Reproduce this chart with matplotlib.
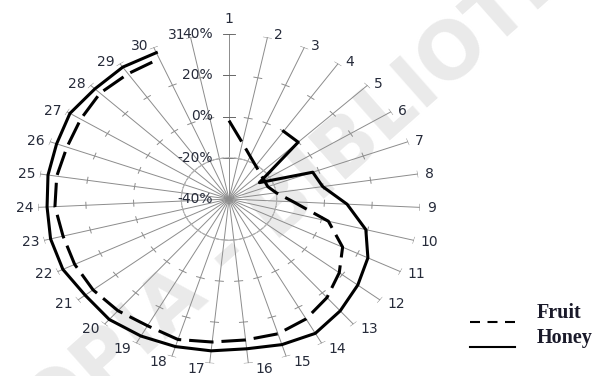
import numpy as np
import matplotlib
matplotlib.use("Agg")
import matplotlib.pyplot as plt
from matplotlib.lines import Line2D

# 31 days around the radar, values in %
days = [str(d) for d in range(1, 32)]
nan = np.nan
fruit = [-2, -12.2, -17.5, -20.4, -22, -22.7, -22.7, -20, -13, 3,
         13, 18.4, 23, 26.5, 28.5, 28.7, 29.7, 31.4, 30.3, 31.4,
         32, 32, 31.8, 33, 33, 32.4, 33.2, 34.5, 34, 34, nan]
honey = [nan, nan, nan, 0, 0, -25, -2.6, -0.3, 9.5, 19.2,
         24.8, 28.2, 31.5, 34.5, 34, 33, 34, 35, 36, 37,
         36.2, 37.5, 37.2, 36.3, 36.7, 37, 38.5, 37.5, 37.9, 37.2, nan]
r_levels = [-40, -20, 0, 20, 40]
r_labels = ['-40%', '-20%', '0%', '20%', '40%']

W, H = 603, 376
txt_col = '#262b3a'
grid_col = '#8c8c8c'

fig = plt.figure(figsize=(W / 100, H / 100), dpi=100)

# faint watermark of the scanned page
fig.text(320 / W, 1 - 173 / H, 'COPIA - BIBLIOTECA', rotation=41.5,
         ha='center', va='center', fontsize=56, fontweight='bold',
         color='#eaeaea', zorder=-1)

# box of the (stretched) radar in pixels
bx, by, bw, bh = 38, 12, 382, 330
ax = fig.add_axes([bx / W, by / H, bw / W, bh / H], projection='polar')
ax.set_aspect('auto')
ax.set_theta_zero_location('N')
ax.set_theta_direction(-1)
ax.set_ylim(-40, 40)
ax.set_xticks([])
ax.set_yticks([])
ax.grid(False)
ax.spines['polar'].set_visible(False)
ax.patch.set_visible(False)

n = len(days)
theta = np.arange(n) * 2 * np.pi / n
Rx, Ry = bw / 2, bh / 2

# faint gridline at -20%
tt = np.linspace(0, 2 * np.pi, 300)
ax.plot(tt, np.full_like(tt, -20.0), color='#b5b5b5', lw=0.7)

# spokes with tick marks
for i, t in enumerate(theta):
    ax.plot([t, t], [-40, 40], color=grid_col, lw=0.7, zorder=1)
    rad = np.hypot(Rx * np.sin(t), Ry * np.cos(t))
    for lv in r_levels[1:]:
        rho = (lv + 40) / 80
        h = 5.0 if i == 0 else 3.5
        d = h / (rad * rho)
        ax.plot([t - d, t + d], [lv, lv], color=grid_col if i else '#666666',
                lw=0.7, zorder=1)
    # category label, placed beside the end of the spoke
    s, c = np.sin(t), np.cos(t)
    dy = -6 * max(0.0, -c) + 2 * max(0.0, c)
    if i == 0:
        xy_off, ha = (0, 15), 'center'
    elif s > 0:
        xy_off, ha = (7, dy), 'left'
    else:
        xy_off, ha = (-5, dy), 'right'
    ax.annotate(days[i], xy=(t, 40), xytext=xy_off,
                textcoords='offset pixels', ha=ha, va='center',
                fontsize=10, color=txt_col)

# radial labels on the first spoke
for lv, lab in zip(r_levels, r_labels):
    ax.annotate(lab, xy=(0, lv), xytext=(-16, 0), textcoords='offset pixels',
                ha='right', va='center', fontsize=10, color=txt_col)

ax.plot(theta, fruit, color='black', lw=2.2, dashes=(8, 2.6),
        dash_capstyle='butt', zorder=3)
ax.plot(theta, honey, color='black', lw=2.2, zorder=3)

# legend drawn by hand at the lower right
fig.add_artist(Line2D([470 / W, 515 / W], [1 - 322 / H] * 2, color='black',
                      lw=1.5, dashes=(4.8, 3.6), dash_capstyle='butt'))
fig.add_artist(Line2D([470 / W, 515 / W], [1 - 347 / H] * 2, color='black',
                      lw=1.5))
fig.text(537 / W, 1 - 318 / H, 'Fruit', fontfamily='Liberation Serif',
         fontweight='bold', fontsize=14.5, va='baseline', color='#1a1a2a')
fig.text(537 / W, 1 - 343 / H, 'Honey', fontfamily='Liberation Serif',
         fontweight='bold', fontsize=14.5, va='baseline', color='#1a1a2a')

fig.savefig('out.png', dpi=100)
